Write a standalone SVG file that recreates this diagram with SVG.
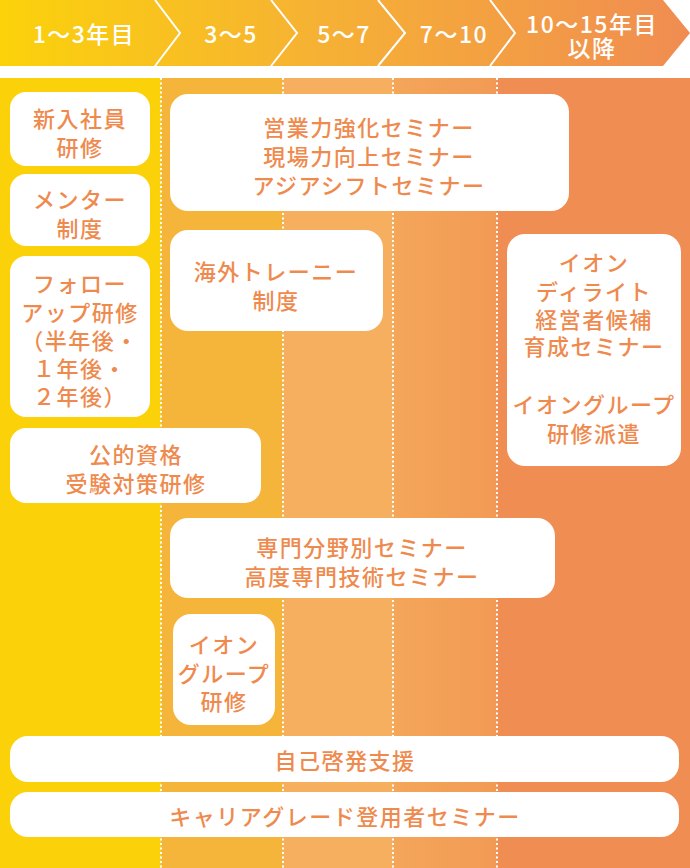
<svg xmlns="http://www.w3.org/2000/svg" width="690" height="868" viewBox="0 0 690 868">
<defs>
<linearGradient id="hg" x1="0" y1="0" x2="1" y2="0">
<stop offset="0" stop-color="#FBD20A"/>
<stop offset="0.45" stop-color="#F6B233"/>
<stop offset="1" stop-color="#F08C52"/>
</linearGradient>
<linearGradient id="c4" x1="0" y1="0" x2="1" y2="0">
<stop offset="0" stop-color="#F4A659"/>
<stop offset="1" stop-color="#F29A55"/>
</linearGradient>
</defs>
<style>
.box{fill:#FFFFFF}
.t{font-family:"Noto Sans CJK JP","Noto Sans",sans-serif;font-size:22px;font-weight:500;fill:#EF8A4E;text-anchor:middle;dominant-baseline:central;letter-spacing:1.5px}
.h{font-family:"Noto Sans CJK JP","Noto Sans",sans-serif;font-size:23px;font-weight:500;fill:#FFFFFF;text-anchor:middle;dominant-baseline:central;letter-spacing:1.5px}
.dot{stroke:#FFFFFF;stroke-width:2;stroke-dasharray:2 2.5;fill:none}
.chev{stroke:#FFFFFF;stroke-width:2;fill:none}
</style>
<rect x="0" y="0" width="690" height="868" fill="#FFFFFF"/>
<g id="header">
<polygon points="0,0 663,0 690,33 663,66 0,66" fill="url(#hg)"/>
<polyline class="chev" points="155,0 180,33 155,66"/>
<polyline class="chev" points="271,0 297,33 271,66"/>
<polyline class="chev" points="378,0 405,33 378,66"/>
<polyline class="chev" points="490,0 515,33 490,66"/>
<text class="h" x="84" y="33">1〜3年目</text>
<text class="h" x="231" y="33">3〜5</text>
<text class="h" x="344" y="33">5〜7</text>
<text class="h" x="454" y="33">7〜10</text>
<text class="h" x="592" y="23">10〜15年目</text>
<text class="h" x="592" y="47">以降</text>
</g>
<g id="columns">
<rect x="0" y="78" width="161" height="790" fill="#FBD209"/>
<rect x="161" y="78" width="122" height="790" fill="#F5B43A"/>
<rect x="283" y="78" width="110" height="790" fill="#F6AF5E"/>
<rect x="393" y="78" width="104" height="790" fill="url(#c4)"/>
<rect x="497" y="78" width="193" height="790" fill="#F08D52"/>
</g>
<g id="connectors">
<line class="dot" x1="161" y1="78" x2="161" y2="868"/>
<line class="dot" x1="283" y1="78" x2="283" y2="868"/>
<line class="dot" x1="393" y1="78" x2="393" y2="868"/>
<line class="dot" x1="497" y1="78" x2="497" y2="868"/>
</g>
<g id="n-shinnyu">
<rect class="box" x="10" y="92" width="140" height="74" rx="16"/>
<text class="t" x="80" y="117">新入社員</text>
<text class="t" x="80" y="146">研修</text>
</g>
<g id="n-mentor">
<rect class="box" x="10" y="174" width="140" height="72" rx="16"/>
<text class="t" x="80" y="198">メンター</text>
<text class="t" x="80" y="227">制度</text>
</g>
<g id="n-follow">
<rect class="box" x="10" y="256" width="140" height="161" rx="16"/>
<text class="t" x="80" y="282">フォロー</text>
<text class="t" x="80" y="311">アップ研修</text>
<text class="t" x="80" y="339">（半年後・</text>
<text class="t" x="80" y="367">１年後・</text>
<text class="t" x="80" y="395">２年後）</text>
</g>
<g id="n-shikaku">
<rect class="box" x="10" y="428" width="251" height="75" rx="16"/>
<text class="t" x="136" y="453">公的資格</text>
<text class="t" x="136" y="482">受験対策研修</text>
</g>
<g id="n-eigyo">
<rect class="box" x="170" y="94" width="399" height="117" rx="18"/>
<text class="t" x="369" y="126">営業力強化セミナー</text>
<text class="t" x="369" y="155">現場力向上セミナー</text>
<text class="t" x="369" y="184">アジアシフトセミナー</text>
</g>
<g id="n-kaigai">
<rect class="box" x="170" y="230" width="213" height="101" rx="18"/>
<text class="t" x="276" y="270">海外トレーニー</text>
<text class="t" x="276" y="299">制度</text>
</g>
<g id="n-delight">
<rect class="box" x="507" y="234" width="174" height="232" rx="18"/>
<text class="t" x="594" y="261">イオン</text>
<text class="t" x="594" y="290">ディライト</text>
<text class="t" x="594" y="318">経営者候補</text>
<text class="t" x="594" y="345">育成セミナー</text>
<text class="t" x="594" y="403">イオングループ</text>
<text class="t" x="594" y="432">研修派遣</text>
</g>
<g id="n-senmon">
<rect class="box" x="170" y="518" width="385" height="80" rx="18"/>
<text class="t" x="362" y="546">専門分野別セミナー</text>
<text class="t" x="362" y="575">高度専門技術セミナー</text>
</g>
<g id="n-aeon-group">
<rect class="box" x="173" y="614" width="102" height="111" rx="18"/>
<text class="t" x="224" y="643">イオン</text>
<text class="t" x="224" y="672">グループ</text>
<text class="t" x="224" y="700">研修</text>
</g>
<g id="n-jiko">
<rect class="box" x="10" y="736" width="669" height="46" rx="18"/>
<text class="t" x="345" y="759">自己啓発支援</text>
</g>
<g id="n-career">
<rect class="box" x="10" y="792" width="669" height="45" rx="18"/>
<text class="t" x="345" y="815">キャリアグレード登用者セミナー</text>
</g>
</svg>
